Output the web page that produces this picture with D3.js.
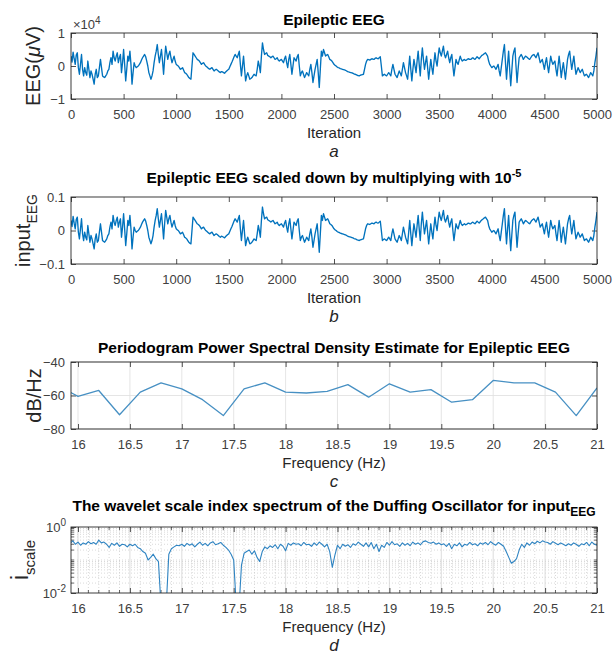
<!DOCTYPE html>
<html><head><meta charset="utf-8">
<script src="https://cdn.jsdelivr.net/npm/d3@7"></script>
<style>
body{margin:0;background:#fff}
svg{display:block}
text{font-family:"Liberation Sans",Arial,Helvetica,sans-serif}
</style>
</head><body>
<svg id="chart" width="614" height="658"></svg>
<script>
// ---------------- DATA ----------------
// Panel a: Epileptic EEG (units of 1e4 µV), read every 10 iterations
const eegIterations = d3.range(0, 5001, 10);
const eegValues = [
 0.30,0.12,0.42,0.22,0.05,0.33,0.40,-0.05,-0.25,0.05,
 0.35,-0.10,-0.30,-0.05,-0.20,-0.28,0.15,-0.10,-0.35,-0.15,
 -0.25,-0.40,-0.55,-0.25,-0.10,-0.35,-0.30,-0.05,0.20,-0.05,
 -0.30,-0.33,-0.35,-0.30,-0.25,-0.15,-0.10,0.10,0.25,0.05,
 0.45,0.25,0.15,0.30,0.40,0.10,0.25,0.35,-0.20,0.10,
 0.50,0.05,-0.45,-0.10,0.30,0.15,0.45,0.05,-0.55,-0.20,
 0.10,0.00,-0.05,-0.02,0.00,0.05,0.10,0.18,0.25,0.30,
 0.35,0.28,0.15,0.00,-0.20,-0.30,-0.40,-0.30,-0.15,0.10,
 0.30,0.45,0.65,0.35,0.10,0.30,0.50,0.15,-0.25,0.20,
 0.60,0.40,0.20,0.35,0.45,0.25,0.10,0.20,0.30,0.15,
 0.05,0.02,0.00,-0.05,-0.10,-0.08,-0.05,-0.12,-0.20,-0.22,
 -0.25,-0.30,-0.35,-0.38,-0.40,0.00,0.40,0.35,0.30,0.25,
 0.20,0.18,0.15,0.10,0.05,0.08,0.10,0.05,0.00,-0.02,
 -0.05,-0.08,-0.10,-0.07,-0.05,-0.10,-0.15,-0.12,-0.10,-0.12,
 -0.15,-0.18,-0.20,-0.17,-0.18,-0.20,-0.22,-0.18,-0.15,-0.12,
 -0.10,-0.02,0.05,0.12,0.20,0.28,0.35,0.30,0.25,0.35,
 0.45,0.05,-0.30,0.00,0.30,-0.10,-0.45,-0.30,-0.20,-0.30,
 -0.40,-0.38,-0.35,-0.30,-0.25,-0.28,-0.30,-0.10,0.15,0.00,
 -0.20,0.30,0.70,0.50,0.35,0.38,0.40,0.32,0.30,0.28,
 0.25,0.28,0.30,0.25,0.20,0.22,0.25,0.18,0.15,0.18,
 0.20,0.15,0.10,0.22,0.30,0.10,-0.05,0.20,0.35,0.05,
 -0.25,0.00,0.25,0.20,0.15,0.28,0.35,0.00,-0.30,-0.20,
 -0.15,-0.25,-0.35,-0.28,-0.20,-0.25,-0.30,-0.10,0.05,-0.20,
 -0.50,-0.30,-0.10,0.05,0.20,-0.20,-0.65,-0.10,0.45,0.30,
 0.50,0.40,0.30,0.33,0.35,0.28,0.20,0.18,0.15,0.10,
 0.05,0.02,0.00,-0.03,-0.05,-0.06,-0.08,-0.09,-0.10,-0.11,
 -0.12,-0.13,-0.15,-0.17,-0.18,-0.19,-0.20,-0.21,-0.22,-0.24,
 -0.25,-0.26,-0.28,-0.29,-0.30,-0.28,-0.27,-0.26,-0.25,-0.10,
 0.05,0.15,0.20,0.19,0.18,0.20,0.22,0.21,0.20,0.23,
 0.25,0.23,0.22,0.25,0.28,0.00,-0.30,-0.27,-0.25,-0.28,
 -0.30,-0.25,-0.20,-0.25,-0.30,-0.10,0.05,-0.10,-0.25,-0.30,
 -0.35,-0.25,-0.15,-0.22,-0.30,-0.10,0.10,-0.05,-0.20,-0.30,
 -0.40,-0.05,0.30,-0.10,-0.45,-0.10,0.20,0.00,-0.20,0.15,
 0.45,0.05,-0.30,0.20,0.55,0.20,-0.10,0.10,0.30,-0.05,
 -0.40,-0.10,0.20,-0.05,-0.25,0.10,0.40,0.15,0.00,0.30,
 0.55,0.40,0.30,0.45,0.60,0.35,0.25,0.35,0.45,0.25,
 0.10,0.25,0.35,0.00,-0.30,-0.05,0.20,0.10,0.05,0.18,
 0.30,0.20,0.15,0.18,0.20,0.17,0.18,0.21,0.22,0.20,
 0.20,0.23,0.25,0.22,0.20,0.24,0.28,0.25,0.22,0.26,
 0.30,0.33,0.35,0.38,0.40,0.35,0.30,0.15,0.05,0.00,
 -0.05,-0.02,0.00,-0.05,-0.10,-0.02,0.05,-0.15,-0.30,-0.05,
 0.20,0.45,0.65,0.10,-0.40,0.05,0.45,-0.10,-0.60,-0.15,
 0.30,0.45,0.55,0.00,-0.50,-0.10,0.25,0.30,0.35,0.28,
 0.20,0.25,0.30,0.28,0.25,0.22,0.20,0.25,0.30,0.33,
 0.35,0.30,0.25,0.33,0.40,0.25,0.10,0.15,0.20,0.05,
 -0.10,0.10,0.25,0.00,-0.20,0.05,0.30,0.15,0.05,0.10,
 0.15,-0.10,-0.30,0.00,0.30,0.00,-0.35,-0.10,0.10,-0.15,
 -0.40,-0.10,0.20,0.35,0.45,0.15,-0.10,0.10,0.30,0.00,
 -0.25,-0.15,-0.05,-0.12,-0.20,-0.15,-0.10,-0.20,-0.30,-0.27,
 -0.25,-0.30,-0.35,-0.28,-0.20,-0.25,-0.30,-0.15,0.10,0.30,
 0.55
];
const eegExponent = 4;        // values above are ×10^4 µV
const scaleDownFactor = 1e-5; // panel b = EEG(µV) × 10^-5

// Panel c: periodogram PSD (dB/Hz)
const psdFreq = [15.93,16.0,16.2,16.4,16.6,16.8,17.0,17.2,17.4,17.6,17.8,18.0,18.2,18.4,18.6,18.8,19.0,19.2,19.4,19.6,19.8,20.0,20.2,20.4,20.6,20.8,21.0];
const psdValues = [-58.2,-60.5,-57,-71.5,-58,-52.5,-56,-62.5,-72,-56,-52.5,-58,-58.5,-57.5,-53.5,-61,-53,-58,-56.5,-64,-62.5,-51,-52.5,-52.5,-58,-72,-55.5];

// Panel d: wavelet scale index (step 0.025 Hz from 15.925 Hz)
const wsiStart = 15.925, wsiStep = 0.025;
const wsiValues = [
 0.32,0.38,0.30,
 0.35,0.28,0.33,0.30,0.36,0.31,0.34,0.30,
 0.40,0.33,0.35,0.30,0.24,0.32,0.28,0.33,
 0.26,0.30,0.29,0.25,0.30,0.27,0.30,0.24,
 0.22,0.18,0.16,0.10,0.12,0.15,0.11,0.09,
 0.004,0.003,0.004,0.15,0.22,0.25,0.28,0.27,
 0.30,0.26,0.32,0.28,0.31,0.25,0.30,0.35,
 0.28,0.32,0.27,0.33,0.36,0.29,0.31,0.34,
 0.28,0.24,0.20,0.15,0.10,0.004,0.003,0.07,
 0.16,0.18,0.20,0.15,0.19,0.12,0.09,0.18,
 0.25,0.22,0.27,0.24,0.29,0.22,0.30,0.26,
 0.19,0.32,0.28,0.33,0.30,0.31,0.27,0.34,
 0.29,0.30,0.26,0.33,0.28,0.35,0.30,0.25,
 0.30,0.18,0.06,0.14,0.28,0.22,0.30,0.26,
 0.29,0.24,0.31,0.28,0.35,0.30,0.26,0.33,
 0.25,0.34,0.22,0.30,0.18,0.28,0.24,0.34,
 0.28,0.36,0.29,0.31,0.26,0.33,0.28,0.32,
 0.27,0.35,0.30,0.33,0.29,0.36,0.38,0.34,
 0.32,0.35,0.30,0.33,0.29,0.31,0.26,0.32,
 0.22,0.30,0.27,0.33,0.25,0.30,0.28,0.34,
 0.29,0.31,0.27,0.33,0.30,0.34,0.29,0.36,
 0.31,0.28,0.34,0.30,0.26,0.18,0.12,0.08,
 0.09,0.11,0.20,0.30,0.24,0.33,0.28,0.35,
 0.31,0.37,0.33,0.38,0.35,0.34,0.30,0.36,
 0.32,0.29,0.33,0.30,0.27,0.31,0.28,0.33,
 0.30,0.26,0.31,0.29,0.34,0.27,0.35,0.30,
 0.28
];
const wsiFreq = wsiValues.map((_, i) => wsiStart + i * wsiStep);

// Tick labels
const iterTicks = [0,500,1000,1500,2000,2500,3000,3500,4000,4500,5000];
const freqTicks = [16,16.5,17,17.5,18,18.5,19,19.5,20,20.5,21];
const yTicksA = [-1,0,1];
const yTicksB = [-0.1,0,0.1];
const yTicksC = [-80,-60,-40];
const yTicksD = [0.01,1];
const yTickLabelsD = [["10","-2"],["10","0"]];

// ---------------- LAYOUT ----------------
const L = 71, R = 597;
const panels = {
  a:{top:33,bottom:99},
  b:{top:197,bottom:264},
  c:{top:362,bottom:429},
  d:{top:527,bottom:593}
};
const AX = '#262626', TK = '#404040';
const svg = d3.select('#chart');
const defs = svg.append('defs');

function styleAxis(sel){
  sel.select('.domain').remove();
  sel.selectAll('.tick line').attr('stroke', AX).attr('stroke-width', 0.8);
  sel.selectAll('.tick text').attr('fill', TK).attr('font-size', 13)
     .attr('font-family','"Liberation Sans",Arial,sans-serif');
}

function frame(id, p, x, y, xt, yt, yfmt, showYLabels){
  const g = svg.append('g');
  g.append('g').attr('transform',`translate(0,${p.bottom})`)
    .call(d3.axisBottom(x).tickValues(xt).tickSize(-5).tickPadding(11).tickFormat(d=>d3.format('')(d)))
    .call(styleAxis);
  g.append('g').attr('transform',`translate(0,${p.top})`)
    .call(d3.axisTop(x).tickValues(xt).tickSize(-5).tickFormat(''))
    .call(styleAxis);
  g.append('g').attr('transform',`translate(${L},0)`)
    .call(d3.axisLeft(y).tickValues(yt).tickSize(-5).tickPadding(6).tickFormat(showYLabels ? yfmt : ''))
    .call(styleAxis);
  g.append('g').attr('transform',`translate(${R},0)`)
    .call(d3.axisRight(y).tickValues(yt).tickSize(-5).tickFormat(''))
    .call(styleAxis);
  defs.append('clipPath').attr('id','clip-'+id).append('rect')
    .attr('x',L).attr('y',p.top).attr('width',R-L).attr('height',p.bottom-p.top);
  return g;
}
function box(p){
  svg.append('rect').attr('x',L).attr('y',p.top).attr('width',R-L).attr('height',p.bottom-p.top)
    .attr('fill','none').attr('stroke',AX).attr('stroke-width',0.9);
}
function title(y, build){
  const t = svg.append('text').attr('x',(L+R)/2).attr('y',y).attr('text-anchor','middle')
    .attr('font-weight','bold').attr('font-size',15.5).attr('fill','#000');
  build(t);
  return t;
}
function xlabel(y, txt){
  svg.append('text').attr('x',(L+R)/2).attr('y',y).attr('text-anchor','middle')
    .attr('font-size',15).attr('fill','#262626').text(txt);
}
function letter(y, txt){
  svg.append('text').attr('x',(L+R)/2).attr('y',y).attr('text-anchor','middle')
    .attr('font-size',17).attr('font-style','italic').attr('fill','#262626').text(txt);
}
function ylabel(xc, yc, size){
  return svg.append('text').attr('transform',`translate(${xc},${yc}) rotate(-90)`)
    .attr('text-anchor','middle').attr('fill','#262626').attr('font-size',size||20);
}

const xIter = d3.scaleLinear().domain([0,5000]).range([L,R]);
const xFreq = d3.scaleLinear().domain([15.9326,21]).range([L,R]);

// ---------------- PANEL A ----------------
{
  const p = panels.a;
  const y = d3.scaleLinear().domain([-1,1]).range([p.bottom,p.top]);
  frame('a',p,xIter,y,iterTicks,yTicksA,d=>d3.format('')(d),true);
  svg.append('path').datum(eegValues).attr('clip-path','url(#clip-a)')
    .attr('fill','none').attr('stroke','#0072BD').attr('stroke-width',1.35).attr('stroke-linejoin','round')
    .attr('d', d3.line().x((d,i)=>xIter(eegIterations[i])).y(d=>y(d)));
  box(p);
  const ex = svg.append('text').attr('x',L+2).attr('y',29).attr('font-size',13).attr('fill',TK);
  ex.append('tspan').text('\u00d710');
  ex.append('tspan').attr('dy',-5).attr('font-size',10).text(eegExponent);
  title(25, t=>t.text('Epileptic EEG'));
  xlabel(138,'Iteration');
  letter(157,'a');
  const yl = ylabel(40,(p.top+p.bottom)/2);
  yl.append('tspan').text('EEG(');
  yl.append('tspan').attr('font-style','italic').text('\u03bc');
  yl.append('tspan').text('V)');
}

// ---------------- PANEL B ----------------
{
  const p = panels.b;
  const y = d3.scaleLinear().domain([-0.1,0.1]).range([p.bottom,p.top]);
  frame('b',p,xIter,y,iterTicks,yTicksB,d=>d3.format('')(d),true);
  const inputVals = eegValues.map(v => v * Math.pow(10,eegExponent) * scaleDownFactor);
  svg.append('path').datum(inputVals).attr('clip-path','url(#clip-b)')
    .attr('fill','none').attr('stroke','#0072BD').attr('stroke-width',1.35).attr('stroke-linejoin','round')
    .attr('d', d3.line().x((d,i)=>xIter(eegIterations[i])).y(d=>y(d)));
  box(p);
  title(183, t=>{
    t.append('tspan').text('Epileptic EEG scaled down by multiplying with 10');
    t.append('tspan').attr('dy',-6).attr('font-size',11).text('-5');
  });
  xlabel(303,'Iteration');
  letter(322,'b');
  const yl = ylabel(30,(p.top+p.bottom)/2);
  yl.append('tspan').text('input');
  yl.append('tspan').attr('dy',7).attr('font-size',14).text('EEG');
}

// ---------------- PANEL C ----------------
{
  const p = panels.c;
  const y = d3.scaleLinear().domain([-80,-40]).range([p.bottom,p.top]);
  const grid = svg.append('g');
  grid.selectAll('.gx').data(freqTicks).join('line')
    .attr('x1',d=>xFreq(d)).attr('x2',d=>xFreq(d)).attr('y1',p.top).attr('y2',p.bottom)
    .attr('stroke','#dedede').attr('stroke-width',0.8);
  grid.selectAll('.gy').data(yTicksC).join('line')
    .attr('y1',d=>y(d)).attr('y2',d=>y(d)).attr('x1',L).attr('x2',R)
    .attr('stroke','#dedede').attr('stroke-width',0.8);
  frame('c',p,xFreq,y,freqTicks,yTicksC,d=>d3.format('')(d),true);
  svg.append('path').datum(psdValues).attr('clip-path','url(#clip-c)')
    .attr('fill','none').attr('stroke','#4790c3').attr('stroke-width',1.3).attr('stroke-linejoin','round')
    .attr('d', d3.line().x((d,i)=>xFreq(psdFreq[i])).y(d=>y(d)));
  box(p);
  title(353, t=>t.text('Periodogram Power Spectral Density Estimate for Epileptic EEG'));
  xlabel(468,'Frequency (Hz)');
  letter(487,'c');
  const yl = ylabel(41,(p.top+p.bottom)/2);
  yl.text('dB/Hz');
}

// ---------------- PANEL D ----------------
{
  const p = panels.d;
  const y = d3.scaleLog().domain([0.01,1]).range([p.bottom,p.top]);
  const grid = svg.append('g');
  const minorX = d3.range(160,211).map(v=>v/10).filter(v=>Math.abs(v*2-Math.round(v*2))>1e-6);
  grid.selectAll('.mx').data(minorX).join('line')
    .attr('x1',d=>xFreq(d)).attr('x2',d=>xFreq(d)).attr('y1',p.top).attr('y2',p.bottom)
    .attr('stroke','#c8c8c8').attr('stroke-width',0.7).attr('stroke-dasharray','1,2');
  const minorY = [];
  [0.01,0.1].forEach(dec=>{ for(let k=2;k<=9;k++) minorY.push(dec*k); });
  minorY.push(0.1);
  grid.selectAll('.my').data(minorY).join('line')
    .attr('y1',d=>y(d)).attr('y2',d=>y(d)).attr('x1',L).attr('x2',R)
    .attr('stroke','#c8c8c8').attr('stroke-width',0.7).attr('stroke-dasharray','1,2');
  grid.selectAll('.gx').data(freqTicks).join('line')
    .attr('x1',d=>xFreq(d)).attr('x2',d=>xFreq(d)).attr('y1',p.top).attr('y2',p.bottom)
    .attr('stroke','#d4d4d4').attr('stroke-width',0.8);
  frame('d',p,xFreq,y,freqTicks,yTicksD,null,false);
  const mt = svg.append('g').attr('stroke',AX).attr('stroke-width',0.7);
  minorY.forEach(v=>{
    mt.append('line').attr('x1',L).attr('x2',L+3).attr('y1',y(v)).attr('y2',y(v));
    mt.append('line').attr('x1',R).attr('x2',R-3).attr('y1',y(v)).attr('y2',y(v));
  });
  minorX.forEach(v=>{
    mt.append('line').attr('x1',xFreq(v)).attr('x2',xFreq(v)).attr('y1',p.bottom).attr('y2',p.bottom-3);
    mt.append('line').attr('x1',xFreq(v)).attr('x2',xFreq(v)).attr('y1',p.top).attr('y2',p.top+3);
  });
  yTicksD.forEach((v,i)=>{
    const t = svg.append('text').attr('x',L-5).attr('y',y(v)+5).attr('text-anchor','end')
      .attr('font-size',13).attr('fill',TK);
    t.append('tspan').text(yTickLabelsD[i][0]);
    t.append('tspan').attr('dy',-6).attr('font-size',10).text(yTickLabelsD[i][1]);
  });
  svg.append('path').datum(wsiValues).attr('clip-path','url(#clip-d)')
    .attr('fill','none').attr('stroke','#2f84c2').attr('stroke-width',1.1).attr('stroke-linejoin','round')
    .attr('d', d3.line().x((d,i)=>xFreq(wsiFreq[i])).y(d=>y(d)));
  box(p);
  title(511, t=>{
    t.append('tspan').text('The wavelet scale index spectrum of the Duffing Oscillator for input');
    t.append('tspan').attr('dy',5).attr('font-size',12).text('EEG');
  });
  xlabel(632,'Frequency (Hz)');
  letter(651,'d');
  const yl = ylabel(28,(p.top+p.bottom)/2);
  yl.append('tspan').attr('font-size',23).text('i');
  yl.append('tspan').attr('dy',7).attr('font-size',15).text('scale');
}
</script>
</body></html>
